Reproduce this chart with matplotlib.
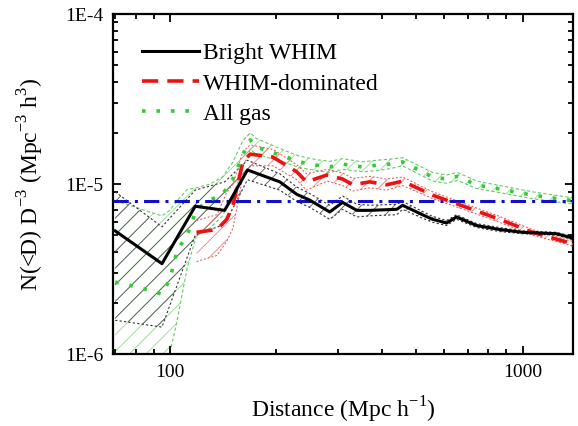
import matplotlib
matplotlib.use("Agg")
import matplotlib.pyplot as plt
from matplotlib.ticker import FixedLocator, FixedFormatter, LogLocator, NullFormatter

plt.rcParams['font.family'] = ['Liberation Serif', 'DejaVu Serif']
plt.rcParams['mathtext.fontset'] = 'custom'
plt.rcParams['mathtext.rm'] = 'Liberation Serif'
plt.rcParams['hatch.linewidth'] = 0.6

# ---- data -------------------------------------------------------------
# Bright WHIM
d_bright = [70, 95, 118, 143, 166, 205, 229, 249, 284, 309, 339, 369, 440, 457,
            520, 556, 609, 650, 741, 861, 1000, 1248, 1341, 1390]
n_bright = [5.3, 3.4, 7.4, 7.0, 12.1, 10.3, 8.7, 8.05, 6.85, 7.8, 7.0, 7.0, 7.1, 7.5,
            6.6, 6.2, 5.9, 6.4, 5.7, 5.4, 5.2, 5.1, 4.9, 4.8]
hi_bright = [9.0, 5.6, 9.2, 10.3, 13.8, 11.5, 9.6, 8.8, 7.5, 8.5, 7.6, 7.5, 7.6, 7.9,
             6.9, 6.45, 6.1, 6.6, 5.85, 5.55, 5.3, 5.2, 5.0, 4.9]
lo_bright = [1.58, 1.44, 5.0, 5.8, 10.6, 9.2, 7.9, 7.3, 6.2, 7.1, 6.4, 6.5, 6.6, 7.1,
             6.3, 5.95, 5.7, 6.2, 5.55, 5.25, 5.1, 5.0, 4.8, 4.7]

# WHIM-dominated
d_whim = [119, 136, 145, 151, 161, 169, 196, 229, 244, 279, 309, 330, 369, 412, 457,
          556, 693, 861, 1067, 1333, 1390]
n_whim = [5.2, 5.4, 6.2, 7.5, 13.5, 15.0, 14.4, 11.8, 10.3, 11.3, 10.7, 9.9, 10.3, 9.9, 10.4,
          8.6, 7.3, 6.2, 5.2, 4.56, 4.45]
hi_whim = [6.1, 6.6, 8.9, 10.0, 15.5, 17.0, 16.0, 13.0, 11.5, 12.2, 11.6, 10.8, 11.1, 10.7, 11.0,
           9.0, 7.6, 6.45, 5.4, 4.7, 4.6]
lo_whim = [3.5, 3.8, 4.6, 5.5, 11.0, 12.8, 12.8, 10.6, 9.2, 10.4, 9.8, 9.1, 9.5, 9.2, 9.8,
           8.2, 7.0, 5.95, 5.0, 4.42, 4.3]

# All gas
d_all = [70, 78.5, 86.7, 95, 100, 105, 112, 119, 130, 141, 151, 161, 169, 176, 214, 233,
         261, 284, 309, 352, 386, 420, 457, 556, 609, 654, 741, 861, 1067, 1333, 1390]
n_all = [2.65, 2.51, 2.38, 2.25, 2.76, 4.09, 5.0, 7.1, 8.05, 8.7, 10.7, 14.8, 18.2, 16.5, 14.4, 13.5,
         12.9, 12.6, 13.1, 12.6, 12.9, 13.1, 13.5, 11.0, 10.7, 11.1, 9.87, 9.35, 8.6, 8.05, 8.0]
hi_all = [8.0, 7.4, 6.9, 6.5, 7.0, 8.0, 9.3, 9.5, 10.0, 11.0, 13.5, 18.0, 20.0, 18.5, 15.6, 14.6,
          13.9, 13.6, 14.1, 13.5, 13.8, 14.0, 14.3, 11.7, 11.3, 11.7, 10.4, 9.8, 9.0, 8.4, 8.3]
lo_all = [0.5, 0.5, 0.5, 0.5, 1.0, 1.6, 3.2, 5.0, 5.5, 6.5, 8.5, 12.5, 16.0, 15.0, 13.3, 12.5,
          12.0, 11.7, 12.2, 11.8, 12.0, 12.3, 12.8, 10.4, 10.1, 10.5, 9.4, 8.9, 8.2, 7.7, 7.7]

scale = 1e-6           # all N values above are in units of 1E-6
reference_level = 8e-6  # homogeneous-distribution level

x_ticks = [100, 1000]
x_ticklabels = ['100', '1000']
y_ticks = [1e-6, 1e-5, 1e-4]
y_ticklabels = ['1E-6', '1E-5', '1E-4']


def sc(v):
    return [a * scale for a in v]


fig = plt.figure(figsize=(5.78, 4.26), dpi=100)
ax = fig.add_axes([0.1955, 0.169, 0.7958, 0.798])
ax.set_xscale('log')
ax.set_yscale('log')

# ---- uncertainty bands -------------------------------------------------
ax.fill_between(d_all, sc(lo_all), sc(hi_all), facecolor='none', edgecolor='#8fdc8f',
                hatch='//', linewidth=0, zorder=1)
ax.plot(d_all, sc(hi_all), color='#66cc66', lw=0.8, ls=(0, (3, 2)), zorder=1.5)
ax.plot(d_all, sc(lo_all), color='#66cc66', lw=0.8, ls=(0, (3, 2)), zorder=1.5)

ax.fill_between(d_bright, sc(lo_bright), sc(hi_bright), facecolor='none', edgecolor='#555555',
                hatch='//', linewidth=0, zorder=2)
ax.plot(d_bright, sc(hi_bright), color='#333333', lw=0.8, ls=(0, (2, 2)), zorder=2.5)
ax.plot(d_bright, sc(lo_bright), color='#333333', lw=0.8, ls=(0, (2, 2)), zorder=2.5)

ax.fill_between(d_whim, sc(lo_whim), sc(hi_whim), facecolor='none', edgecolor='#f08080',
                hatch='//', linewidth=0, zorder=3)
ax.plot(d_whim, sc(hi_whim), color='#e05050', lw=0.7, ls=(0, (2, 2)), zorder=3.5)
ax.plot(d_whim, sc(lo_whim), color='#e05050', lw=0.7, ls=(0, (2, 2)), zorder=3.5)

# ---- main curves -------------------------------------------------------
ax.axhline(reference_level, color='#1010c8', lw=2.2, ls=(0, (5, 2, 1, 2)), zorder=4)
ax.plot(d_bright, sc(n_bright), color='black', lw=2.2, zorder=6, label='Bright WHIM')
ax.plot(d_whim, sc(n_whim), color='#ee1111', lw=2.6, ls=(0, (4.5, 2.5)), zorder=5,
        label='WHIM-dominated')
ax.plot(d_all, sc(n_all), color='#33cc33', lw=2.6, ls=(0, (1, 3)), zorder=5,
        label='All gas')

ax.set_xlim(69, 1390)
ax.set_ylim(1e-6, 1e-4)

ax.xaxis.set_major_locator(FixedLocator(x_ticks))
ax.xaxis.set_major_formatter(FixedFormatter(x_ticklabels))
ax.xaxis.set_minor_locator(LogLocator(base=10, subs=range(2, 10)))
ax.xaxis.set_minor_formatter(NullFormatter())
ax.yaxis.set_major_locator(FixedLocator(y_ticks))
ax.yaxis.set_major_formatter(FixedFormatter(y_ticklabels))
ax.yaxis.set_minor_locator(LogLocator(base=10, subs=range(2, 10)))
ax.yaxis.set_minor_formatter(NullFormatter())

ax.tick_params(which='both', direction='in', top=True, right=True, width=1.3)
ax.tick_params(which='major', length=6, labelsize=14, pad=7)
ax.tick_params(which='minor', length=3.5)
for s in ax.spines.values():
    s.set_linewidth(1.6)

ax.set_xlabel(r'Distance (Mpc h$^{\mathregular{-1}}$)', fontsize=17, labelpad=10)
ax.set_ylabel(r'N(<D) D$^{\mathregular{-3}}$ (Mpc$^{\mathregular{-3}}$ h$^{\mathregular{3}}$)',
              fontsize=17, labelpad=14)

ax.legend(loc='upper left', bbox_to_anchor=(0.063, 0.915), frameon=False, fontsize=17,
          handlelength=2.4, handletextpad=0.2, labelspacing=0.36, borderpad=0,
          borderaxespad=0)

fig.savefig('out.png', dpi=100)
